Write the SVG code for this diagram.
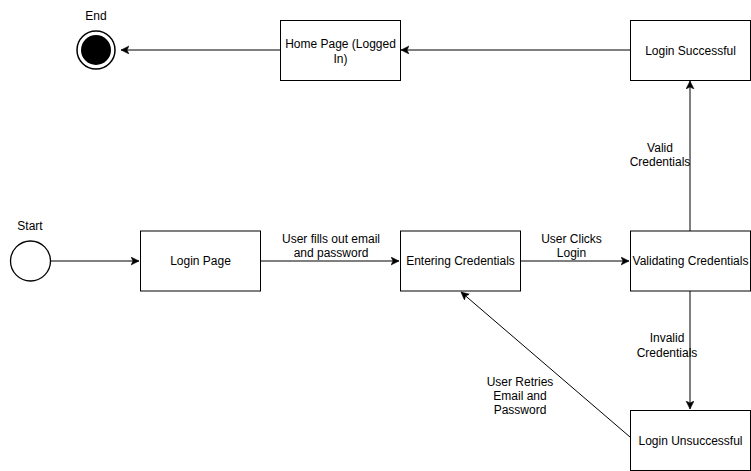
<svg xmlns="http://www.w3.org/2000/svg" width="751" height="471" viewBox="0 0 751 471">
<style>
  .box{fill:#fff;stroke:#000;stroke-width:1}
  .t{font-family:"Liberation Sans",Arial,sans-serif;font-size:12px;fill:#000;text-anchor:middle}
  .e{fill:none;stroke:#000;stroke-width:1}
</style>
<defs>
  <marker id="arr" markerWidth="10" markerHeight="10" refX="8" refY="4" orient="auto" markerUnits="userSpaceOnUse">
    <path d="M0,0 L8,4 L0,8 L2,4 z" fill="#000" stroke="#000" stroke-width="0.5"/>
  </marker>
</defs>
<rect width="751" height="471" fill="#fff"/>
<g id="connectors">
  <line class="e" x1="51" y1="261" x2="139" y2="261" marker-end="url(#arr)"/>
  <line class="e" x1="260" y1="261" x2="399" y2="261" marker-end="url(#arr)"/>
  <line class="e" x1="520" y1="261" x2="629" y2="261" marker-end="url(#arr)"/>
  <line class="e" x1="690" y1="231" x2="690" y2="81" marker-end="url(#arr)"/>
  <line class="e" x1="690" y1="291" x2="690" y2="409" marker-end="url(#arr)"/>
  <line class="e" x1="630" y1="50" x2="401" y2="50" marker-end="url(#arr)"/>
  <line class="e" x1="280" y1="50" x2="121" y2="50" marker-end="url(#arr)"/>
  <line class="e" x1="630" y1="437" x2="461" y2="292" marker-end="url(#arr)"/>
  <text class="t" x="331" y="243">User fills out email</text>
  <text class="t" x="331" y="257">and password</text>
  <text class="t" x="571.5" y="243">User Clicks</text>
  <text class="t" x="571.5" y="257">Login</text>
  <text class="t" x="660" y="152">Valid</text>
  <text class="t" x="660" y="166">Credentials</text>
  <text class="t" x="667" y="342">Invalid</text>
  <text class="t" x="667" y="357">Credentials</text>
  <text class="t" x="520" y="386">User Retries</text>
  <text class="t" x="520" y="400">Email and</text>
  <text class="t" x="520" y="414">Password</text>
</g>
<g id="start">
  <circle cx="30.5" cy="261" r="20" fill="#fff" stroke="#000" stroke-width="1.3"/>
  <text class="t" x="30" y="230">Start</text>
</g>
<g id="end">
  <circle cx="96" cy="50" r="19" fill="#fff" stroke="#000" stroke-width="1.5"/>
  <circle cx="96" cy="50" r="15" fill="#000"/>
  <text class="t" x="96" y="20">End</text>
</g>
<g id="login-page">
  <rect class="box" x="140.5" y="231" width="120" height="60"/>
  <text class="t" x="200.5" y="265">Login Page</text>
</g>
<g id="entering-credentials">
  <rect class="box" x="400.5" y="231" width="120" height="60"/>
  <text class="t" x="460.5" y="265">Entering Credentials</text>
</g>
<g id="validating-credentials">
  <rect class="box" x="630.5" y="231" width="120" height="60"/>
  <text class="t" x="690.5" y="265">Validating Credentials</text>
</g>
<g id="login-successful">
  <rect class="box" x="630.5" y="20.5" width="120" height="60"/>
  <text class="t" x="690.5" y="55">Login Successful</text>
</g>
<g id="home-page">
  <rect class="box" x="280.5" y="20.5" width="120" height="60"/>
  <text class="t" x="340.5" y="48">Home Page (Logged</text>
  <text class="t" x="340.5" y="63">In)</text>
</g>
<g id="login-unsuccessful">
  <rect class="box" x="630.5" y="410.5" width="120" height="60"/>
  <text class="t" x="690.5" y="445">Login Unsuccessful</text>
</g>
</svg>
